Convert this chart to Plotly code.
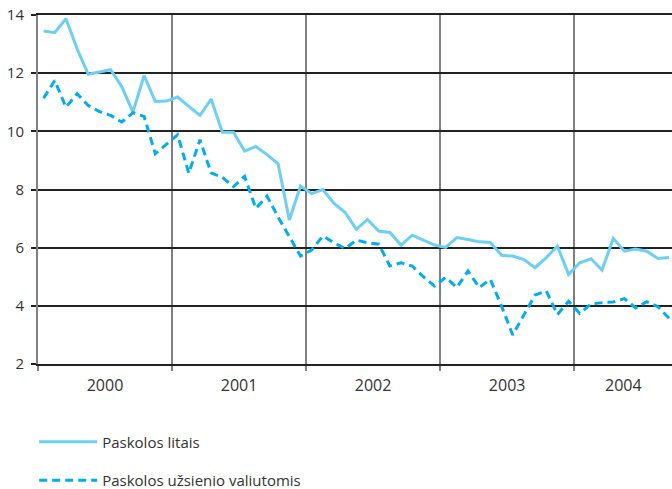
import plotly.graph_objects as go

years = ["2000", "2001", "2002", "2003", "2004"]
year_label_pos = [6, 18, 30, 42, 52.4]
year_starts = [0, 12, 24, 36, 48]

litai = [13.45, 13.39, 13.87, 12.84, 11.96, 12.04, 12.12, 11.54, 10.66, 11.92,
         11.03, 11.04, 11.18, 10.86, 10.55, 11.11, 9.97, 9.97, 9.32, 9.48,
         9.20, 8.88, 6.95, 8.12, 7.86, 8.00, 7.52, 7.21, 6.63, 6.97,
         6.57, 6.52, 6.09, 6.43, 6.26, 6.09, 6.01, 6.35, 6.28, 6.20,
         6.18, 5.74, 5.71, 5.59, 5.31, 5.66, 6.05, 5.08, 5.48, 5.62,
         5.23, 6.32, 5.88, 5.95, 5.88, 5.63, 5.66]

valiutomis = [11.14, 11.75, 10.83, 11.29, 10.89, 10.68, 10.55, 10.32, 10.64, 10.51,
              9.23, 9.57, 9.88, 8.56, 9.71, 8.57, 8.42, 8.10, 8.45, 7.35,
              7.77, 7.05, 6.40, 5.71, 5.92, 6.40, 6.17, 5.97, 6.26, 6.17,
              6.12, 5.37, 5.48, 5.37, 5.00, 4.68, 4.98, 4.63, 5.20, 4.63,
              4.91, 3.99, 3.00, 3.68, 4.37, 4.51, 3.70, 4.16, 3.74, 4.06,
              4.11, 4.13, 4.25, 3.93, 4.14, 3.97, 3.57]

months = [i + 0.5 for i in range(len(litai))]

FONT = "Open Sans"

fig = go.Figure()
fig.add_trace(go.Scatter(
    x=months, y=litai, mode="lines", name="Paskolos litais",
    legendgroup="a",
    line=dict(color="#6DCFF6", width=3),
))
fig.add_trace(go.Scatter(
    x=months, y=valiutomis, mode="lines", name="Paskolos užsienio valiutomis",
    legendgroup="b",
    line=dict(color="#00AEEF", width=3, dash="8px,5px"),
))

fig.update_layout(
    width=672, height=489,
    margin=dict(l=38, r=0, t=15, b=125, autoexpand=False),
    plot_bgcolor="white", paper_bgcolor="white",
    font=dict(family=FONT, color="#333333"),
    showlegend=True,
    legend=dict(
        x=-0.006, xanchor="left", y=-0.176, yanchor="top",
        font=dict(family=FONT, size=15, color="#333333"),
        tracegroupgap=16, itemwidth=58,
        bgcolor="rgba(0,0,0,0)",
    ),
    xaxis=dict(
        range=[0, 56.76], automargin=False,
        tickmode="array", tickvals=year_label_pos, ticktext=years,
        ticks="", showgrid=False, zeroline=False,
        showline=True, linecolor="#222222", linewidth=1.5, mirror=True,
        tickfont=dict(family=FONT, size=16, color="#333333"),
        ticklabelstandoff=6,
        minor=dict(tickmode="array", tickvals=year_starts, showgrid=True,
                   gridcolor="#808080", gridwidth=2,
                   ticks="outside", ticklen=5, tickcolor="#808080", tickwidth=2),
    ),
    yaxis=dict(
        range=[2, 14], automargin=False,
        tickmode="array", tickvals=[2, 4, 6, 8, 10, 12, 14],
        showgrid=True, gridcolor="#222222", gridwidth=1.5, zeroline=False,
        showline=True, linecolor="#808080", linewidth=2,
        ticks="outside", ticklen=5, tickcolor="#222222", tickwidth=1.5,
        tickfont=dict(family=FONT, size=15, color="#333333"),
        ticklabelstandoff=4, ticklabeloverflow="allow",
    ),
)

# Remove the browser's default 8px page margin so the figure fills the window.
fig.write_html("out.html", config={"displayModeBar": False},
               post_script="document.body.style.margin='0';")
